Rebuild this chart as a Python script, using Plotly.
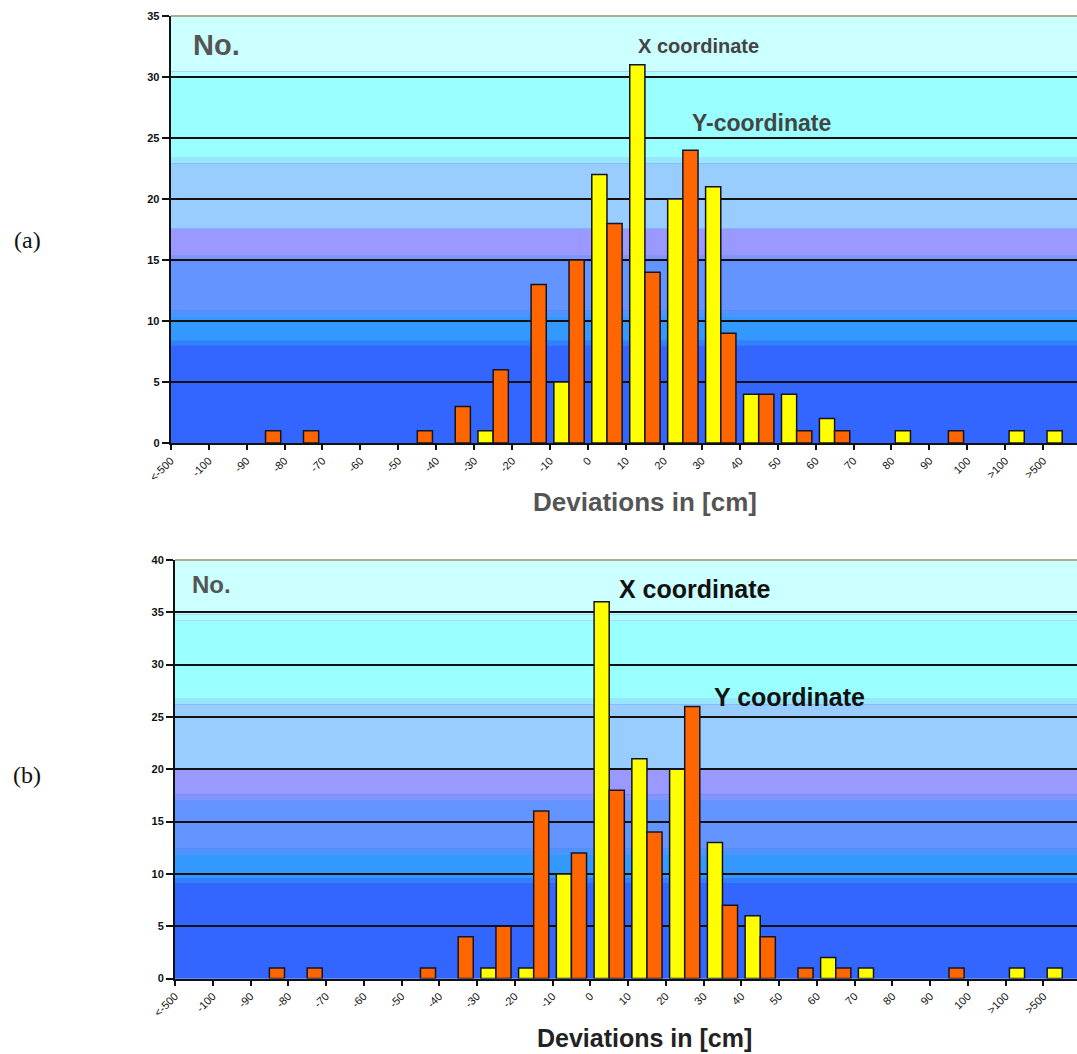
import plotly.graph_objects as go

# ---------------- data ----------------
tick_labels = ["<-500", "-100", "-90", "-80", "-70", "-60", "-50", "-40", "-30", "-20",
               "-10", "0", "10", "20", "30", "40", "50", "60", "70", "80", "90", "100",
               ">100", ">500"]
bins = list(range(24))

x_coord_a = [0, 0, 0, 0, 0, 0, 0, 0, 1, 0, 5, 22, 31, 20, 21, 4, 4, 2, 0, 1, 0, 0, 1, 1]
y_coord_a = [0, 0, 1, 1, 0, 0, 1, 3, 6, 13, 15, 18, 14, 24, 9, 4, 1, 1, 0, 0, 1, 0, 0, 0]
x_coord_b = [0, 0, 0, 0, 0, 0, 0, 0, 1, 1, 10, 36, 21, 20, 13, 6, 0, 2, 1, 0, 0, 0, 1, 1]
y_coord_b = [0, 0, 1, 1, 0, 0, 1, 4, 5, 16, 12, 18, 14, 26, 7, 4, 1, 1, 0, 0, 1, 0, 0, 0]

W, H = 1077, 1054
YELLOW = "#ffff00"
ORANGE = "#ff6600"
EDGE = "#141428"
SANS = "Liberation Sans, Arial, sans-serif"

centers = [b + 0.5 for b in bins]


def nz(vals):
    return [v if v > 0 else None for v in vals]


fig = go.Figure()
for xa, ya, xs, ys in [("x", "y", x_coord_a, y_coord_a), ("x2", "y2", x_coord_b, y_coord_b)]:
    fig.add_trace(go.Bar(x=centers, y=nz(xs), xaxis=xa, yaxis=ya, name="X coordinate",
                         marker=dict(color=YELLOW, line=dict(color=EDGE, width=1.5)),
                         showlegend=False))
    fig.add_trace(go.Bar(x=centers, y=nz(ys), xaxis=xa, yaxis=ya, name="Y coordinate",
                         marker=dict(color=ORANGE, line=dict(color=EDGE, width=1.5)),
                         showlegend=False))

# ---------------- background bands ----------------
bands = [
    (0.000, 0.228, "#3366ff"),
    (0.228, 0.240, "#3380ff"),
    (0.240, 0.295, "#3399ff"),
    (0.295, 0.310, "#4d94ff"),
    (0.310, 0.425, "#6494ff"),
    (0.425, 0.440, "#8096ff"),
    (0.440, 0.502, "#9999ff"),
    (0.502, 0.655, "#99ccff"),
    (0.655, 0.670, "#99e6ff"),
    (0.670, 0.855, "#99ffff"),
    (0.855, 0.870, "#b3ffff"),
    (0.870, 1.000, "#ccffff"),
]
shapes = []
for xr, yr in [("x domain", "y domain"), ("x2 domain", "y2 domain")]:
    for y0, y1, c in bands:
        shapes.append(dict(type="rect", xref=xr, yref=yr, x0=0, x1=1, y0=y0, y1=y1,
                           fillcolor=c, line=dict(width=0), layer="below"))
    shapes.append(dict(type="line", xref=xr, yref=yr, x0=0, x1=1, y0=1, y1=1,
                       line=dict(color="#9a9070", width=1.5)))


def px_x(p):
    return p / W


def px_y(p):
    return 1 - p / H


xa_common = dict(
    range=[0, 23.89], tickmode="array", tickvals=bins, ticktext=tick_labels,
    tickangle=-45, ticks="outside", ticklen=5, tickwidth=1.5, tickcolor="#111",
    showline=True, linecolor="#111", linewidth=2, showgrid=False, zeroline=False,
    tickfont=dict(family=SANS, size=11, color="#111"), automargin=False,
)
ya_common = dict(
    dtick=5, ticks="outside", ticklen=7, tickwidth=1.5, tickcolor="#111",
    showline=True, linecolor="#111", linewidth=2, showgrid=True, gridcolor="#111",
    gridwidth=1.5, zeroline=False, automargin=False,
    tickfont=dict(family=SANS, size=11, color="#111", weight="bold"),
)

fig.update_layout(
    width=W, height=H, autosize=False,
    margin=dict(l=0, r=0, t=0, b=0, pad=0, autoexpand=False),
    paper_bgcolor="white", plot_bgcolor="#3366ff",
    barmode="group", bargap=0.2, bargroupgap=0.0,
    xaxis=dict(domain=[px_x(170.7), 1], anchor="y", **xa_common),
    yaxis=dict(domain=[px_y(443), px_y(16)], anchor="x", range=[0, 35], **ya_common),
    xaxis2=dict(domain=[px_x(175), 1], anchor="y2", **xa_common),
    yaxis2=dict(domain=[px_y(978.5), px_y(560)], anchor="x2", range=[0, 40], **ya_common),
    shapes=shapes,
    font=dict(family=SANS),
)

ann = [
    dict(text="(a)", x=px_x(27), y=px_y(240), font=dict(family="Liberation Serif, Times New Roman, serif", size=24, color="#111")),
    dict(text="(b)", x=px_x(27), y=px_y(775), font=dict(family="Liberation Serif, Times New Roman, serif", size=24, color="#111")),
    dict(text="<b>No.</b>", x=px_x(216), y=px_y(45), font=dict(size=29, color="#555")),
    dict(text="<b>No.</b>", x=px_x(211), y=px_y(584), font=dict(size=24, color="#555")),
    dict(text="<b>X coordinate</b>", x=px_x(698), y=px_y(46), font=dict(size=20, color="#444")),
    dict(text="<b>Y-coordinate</b>", x=px_x(761), y=px_y(123), font=dict(size=23, color="#444")),
    dict(text="<b>X coordinate</b>", x=px_x(695), y=px_y(589), font=dict(size=25, color="#111")),
    dict(text="<b>Y coordinate</b>", x=px_x(789), y=px_y(697), font=dict(size=25, color="#111")),
    dict(text="<b>Deviations in [cm]</b>", x=px_x(645), y=px_y(502), font=dict(size=26, color="#555")),
    dict(text="<b>Deviations in [cm]</b>", x=px_x(644), y=px_y(1038), font=dict(size=25, color="#222")),
]
for a in ann:
    a.update(xref="paper", yref="paper", showarrow=False, xanchor="center", yanchor="middle")
    a["font"].setdefault("family", SANS)
fig.update_layout(annotations=ann)

fig.write_html("out.html", config={"displayModeBar": False},
               post_script="document.body.style.margin='0';")
